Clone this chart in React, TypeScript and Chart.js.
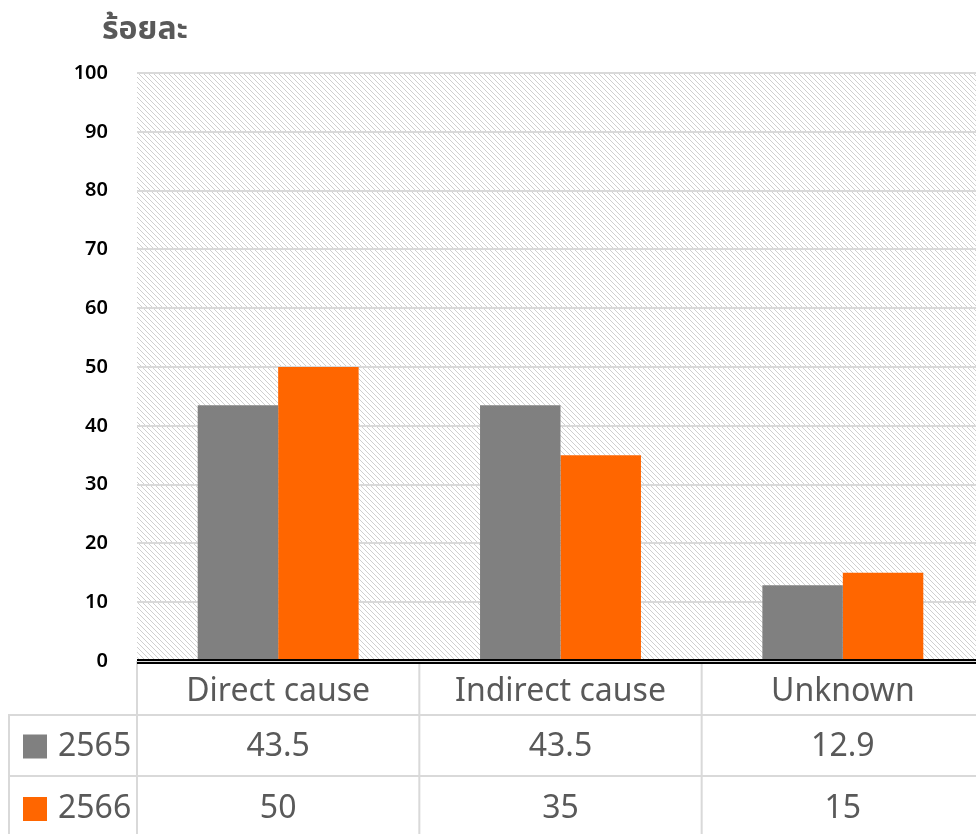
import { useEffect, useRef } from "react";
import { Chart, registerables } from "chart.js";

Chart.register(...registerables);

const categories = ["Direct cause", "Indirect cause", "Unknown"];
const seriesNames = ["2565", "2566"];
const values2565 = [43.5, 43.5, 12.9];
const values2566 = [50, 35, 15];
const seriesColors = ["#808080", "#ff6600"];
const yTitle = "ร้อยละ";
const yMin = 0;
const yMax = 100;
const yStep = 10;

const TABLE_FONT = "32px 'Noto Sans', 'DejaVu Sans', sans-serif";
const TEXT_GREY = "#595959";
const LINE_GREY = "#d9d9d9";

function makePattern(): CanvasPattern | string {
  const c = document.createElement("canvas");
  const n = 5;
  c.width = n;
  c.height = n;
  const g = c.getContext("2d");
  if (!g) return "#f2f2f2";
  g.fillStyle = "#ffffff";
  g.fillRect(0, 0, n, n);
  g.fillStyle = "#cfcfcf";
  for (let i = 0; i < n; i++) g.fillRect(i, i, 1, 1);
  const p = g.createPattern(c, "repeat");
  return p || "#f2f2f2";
}

const hatchPlugin = {
  id: "hatch",
  beforeDraw(chart: any) {
    const { ctx, chartArea: a } = chart;
    ctx.save();
    ctx.fillStyle = makePattern();
    ctx.fillRect(a.left, a.top, a.right - a.left, a.bottom - a.top);
    ctx.restore();
  },
};

const tablePlugin = {
  id: "dataTable",
  afterDraw(chart: any) {
    const { ctx, chartArea: a, width, height } = chart;
    const xs = chart.scales.x;
    const n = categories.length;
    const cw = (a.right - a.left) / n;
    const top = a.bottom;
    const r1 = top + 54;
    const r2 = r1 + 61;
    const bottom = height;
    const leftCol = 8;

    ctx.save();
    ctx.strokeStyle = LINE_GREY;
    ctx.lineWidth = 2;
    ctx.beginPath();
    for (let i = 0; i <= n; i++) {
      const x = a.left + i * cw;
      ctx.moveTo(x, top);
      ctx.lineTo(x, bottom);
    }
    ctx.moveTo(leftCol, r1);
    ctx.lineTo(width, r1);
    ctx.moveTo(leftCol, r2);
    ctx.lineTo(width, r2);
    ctx.moveTo(leftCol + 1, r1);
    ctx.lineTo(leftCol + 1, bottom);
    ctx.stroke();

    ctx.fillStyle = "#000000";
    ctx.fillRect(a.left, top - 2, width - a.left, 2);
    ctx.fillRect(a.left, top + 1, width - a.left, 2);

    ctx.font = TABLE_FONT;
    ctx.fillStyle = TEXT_GREY;
    ctx.textBaseline = "middle";
    ctx.textAlign = "center";
    const rowsY = [(top + r1) / 2 + 4, (r1 + r2) / 2 + 1, r2 + 33];
    categories.forEach((c, i) => {
      const cx = xs.getPixelForValue(i);
      ctx.fillText(c, cx, rowsY[0]);
      ctx.fillText(String(values2565[i]), cx, rowsY[1]);
      ctx.fillText(String(values2566[i]), cx, rowsY[2]);
    });
    seriesNames.forEach((s, j) => {
      const cy = rowsY[j + 1];
      ctx.fillStyle = seriesColors[j];
      ctx.fillRect(23, cy - 12, 24, 24);
      ctx.fillStyle = TEXT_GREY;
      ctx.textAlign = "left";
      ctx.fillText(s, 58, cy);
    });

    ctx.font = "bold 32px 'Noto Sans', 'Noto Sans Thai', sans-serif";
    ctx.fillStyle = TEXT_GREY;
    ctx.textAlign = "left";
    ctx.textBaseline = "alphabetic";
    ctx.fillText(yTitle, 102, 39);
    ctx.restore();
  },
};

export default function App() {
  const ref = useRef<HTMLCanvasElement>(null);
  useEffect(() => {
    if (!ref.current) return;
    const chart = new Chart(ref.current, {
      type: "bar",
      data: {
        labels: categories,
        datasets: [
          { label: seriesNames[0], data: values2565, backgroundColor: seriesColors[0] },
          { label: seriesNames[1], data: values2566, backgroundColor: seriesColors[1] },
        ],
      },
      options: {
        responsive: false,
        animation: false,
        devicePixelRatio: 1,
        layout: { padding: { top: 73, bottom: 173, left: 0, right: 0 } },
        datasets: { bar: { categoryPercentage: 0.57, barPercentage: 1 } },
        plugins: { legend: { display: false }, tooltip: { enabled: false }, title: { display: false } },
        scales: {
          x: { display: false, offset: true },
          y: {
            min: yMin,
            max: yMax,
            ticks: {
              stepSize: yStep,
              padding: 29,
              color: "#000000",
              font: { family: "'Noto Sans', sans-serif", size: 20, weight: 600 },
            },
            grid: { color: LINE_GREY, lineWidth: 2, drawTicks: false },
            border: { display: false },
            afterFit: (s: any) => {
              s.width = 137;
            },
          },
        },
      },
      plugins: [hatchPlugin, tablePlugin],
    });
    return () => chart.destroy();
  }, []);
  return (
    <div style={{ position: "absolute", left: 0, top: 0, width: 976, height: 834, overflow: "hidden", background: "#fff" }}>
      <canvas ref={ref} width={984} height={834} style={{ display: "block" }} />
    </div>
  );
}
